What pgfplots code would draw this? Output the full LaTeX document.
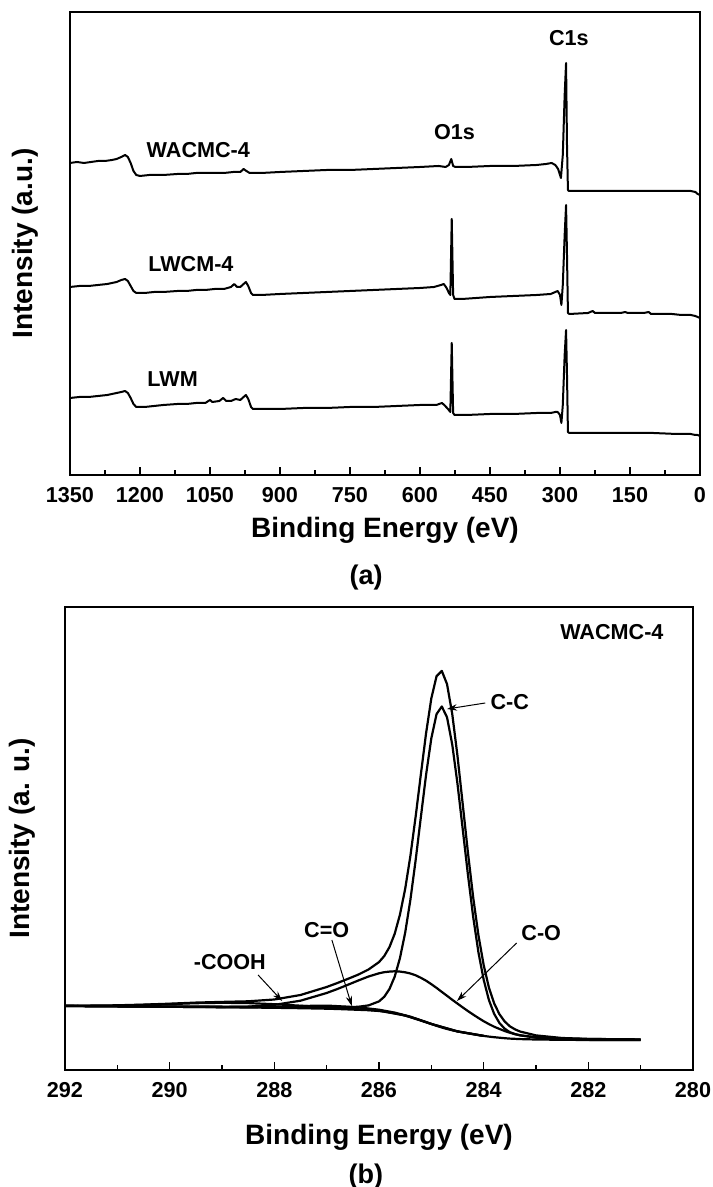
\documentclass[border=0pt]{standalone}
\usepackage{pgfplots}
\pgfplotsset{compat=1.18}
\usepackage{fontspec}
\setmainfont{Liberation Sans}
\usetikzlibrary{arrows.meta}

\pgfplotsset{
  xps/.style={
    scale only axis, clip=false,
    ymin=0, ymax=463, ytick=\empty,
    x dir=reverse, xtick pos=left, tick align=inside,
    minor x tick num=1,
    major tick length=4pt, minor tick length=2.3pt,
    every tick/.style={black, line width=0.8pt},
    axis line style={line width=1pt},
    /pgf/number format/assume math mode=true,
    /pgf/number format/1000 sep={},
    xticklabel style={font=\bfseries\fontsize{10.8}{12}\selectfont, yshift=-2.5pt},
    label style={font=\bfseries\fontsize{14}{16}\selectfont},
    cycle list={{black, mark=none}},
    every axis plot/.append style={line width=1pt, line join=round},
  },
}
\tikzset{
  ann/.style={font=\bfseries\fontsize{10.8}{12}\selectfont},
  arr/.style={-{Stealth[length=5pt,width=3.2pt]}, line width=0.5pt},
}

\begin{document}
\begin{tikzpicture}
\useasboundingbox (0,0) rectangle (356pt,593.5pt);

% (a) survey spectra
\begin{axis}[xps, at={(35pt,356pt)}, anchor=south west,
  width=315pt, height=231.5pt,
  xmin=0, xmax=1350, xtick={0,150,...,1350},
  xlabel={Binding Energy (eV)}, ylabel={Intensity (a.u.)},
  xlabel style={at={(axis description cs:0.5,-0.119)}, anchor=center},
  ylabel style={at={(axis description cs:-0.0714,0.5)}, anchor=center}]

% WACMC-4
\addplot coordinates {
(1350,312) (1335,313) (1320,312) (1305,313) (1290,314) (1275,314) (1260,315)
(1250,316) (1240,318) (1232,320) (1226,318) (1220,312) (1214,304) (1208,300)
(1200,299) (1180,300) (1150,300) (1120,301) (1100,301) (1080,302) (1050,302)
(1020,302) (1000,303) (985,303) (978,306) (972,304) (965,302) (940,302)
(900,303) (850,304) (800,305) (750,305) (700,306) (650,307) (600,308)
(560,309) (545,308) (538,310) (533,316) (529,309) (524,308) (500,308)
(450,309) (400,309) (350,310) (330,311) (318,312) (310,310) (304,306)
(298,297) (294,320) (290,380) (287,412) (285,330) (283,285) (281,284)
(250,284) (200,284) (150,284) (100,284) (50,284) (20,284) (10,283) (5,281) (0,280)
};
% LWCM-4
\addplot coordinates {
(1350,188) (1330,189) (1310,189) (1290,190) (1270,191) (1250,193) (1240,195)
(1232,196) (1226,194) (1220,189) (1214,184) (1208,182) (1190,182) (1170,183)
(1150,183) (1120,184) (1100,184) (1080,185) (1060,185) (1040,186) (1020,186)
(1005,188) (998,191) (992,188) (985,188) (978,191) (973,193) (968,189)
(962,182) (958,180) (940,180) (900,181) (850,182) (800,183) (750,184)
(700,185) (650,186) (600,187) (570,188) (555,190) (549,191) (543,187)
(538,182) (535,180) (532,256) (529,180) (526,176) (510,176) (480,177)
(450,178) (400,179) (350,180) (320,181) (310,183) (305,184) (300,180)
(297,170) (294,190) (290,240) (287,270) (285,220) (283,162) (280,161)
(240,162) (230,164) (225,162) (200,162) (170,162) (160,163) (155,162)
(120,162) (110,163) (105,161) (60,161) (40,160) (20,160) (10,159) (5,158) (0,157)
};
% LWM
\addplot coordinates {
(1350,77) (1330,78) (1310,78) (1290,79) (1270,80) (1250,82) (1240,83)
(1232,84) (1226,82) (1220,77) (1214,71) (1208,68) (1190,68) (1170,69)
(1150,70) (1120,71) (1100,71) (1080,72) (1060,72) (1050,75) (1045,73)
(1030,74) (1022,77) (1015,74) (1005,74) (995,76) (985,75) (978,78)
(973,80) (968,76) (962,68) (958,66) (930,66) (900,66) (850,67) (800,67)
(750,68) (700,68) (650,69) (600,70) (565,70) (553,72) (548,70) (540,66)
(535,63) (532,132) (529,62) (526,60) (500,60) (450,61) (400,61) (350,62)
(320,62) (310,63) (305,63) (300,60) (297,52) (294,70) (290,120) (287,145)
(285,100) (283,43) (280,42) (200,42) (150,42) (100,42) (50,41) (20,41)
(10,40) (5,40) (0,39)
};

\node[ann] at (axis cs:1075,325) {WACMC-4};
\node[ann] at (axis cs:1091,211) {LWCM-4};
\node[ann] at (axis cs:1130,96) {LWM};
\node[ann] at (axis cs:526,343) {O1s};
\node[ann] at (axis cs:281,437) {C1s};
\node[font=\bfseries\fontsize{13.5}{15}\selectfont] at (axis description cs:0.47,-0.2225) {(a)};
\end{axis}

% (b) C1s fit
\begin{axis}[xps, at={(32.5pt,58.5pt)}, anchor=south west,
  width=314pt, height=231.5pt,
  xmin=280, xmax=292, xtick={280,282,...,292},
  xlabel={Binding Energy (eV)}, ylabel={Intensity (a. u.)},
  xlabel style={at={(axis description cs:0.5,-0.145)}, anchor=center},
  ylabel style={at={(axis description cs:-0.0685,0.5)}, anchor=center},
  every axis plot/.append style={line width=1.1pt}]

% background
\addplot coordinates {
(292,64.0) (291,63.6) (290,63.2) (289,62.8) (288,62.2) (287.5,61.8) (287,61.3)
(286.8,61.0) (286.6,60.6) (286.4,60.2) (286.2,59.8) (286.0,59.0) (285.9,58.4)
(285.8,57.6) (285.7,56.7) (285.6,55.6) (285.5,54.4) (285.4,53.0) (285.3,51.4)
(285.2,49.7) (285.1,47.9) (285.0,46.0) (284.9,44.2) (284.8,42.5) (284.7,41.0)
(284.6,39.7) (284.5,38.6) (284.4,37.6) (284.3,36.7) (284.2,35.8) (284.1,34.9)
(284.0,34.1) (283.9,33.4) (283.8,32.8) (283.7,32.3) (283.6,31.8) (283.5,31.4)
(283.3,30.9) (283.0,30.5) (282.5,30.2) (282,30.0) (281,30.0)
};
% -COOH
\addplot coordinates {
(292,64.1) (291.5,64.2) (291,64.4) (290.5,65.1) (290,65.9) (289.5,66.8)
(289,67.2) (288.5,66.9) (288,65.8) (287.5,64.3) (287,62.8) (286.5,61.1)
(286,59.3) (285.5,54.5) (285,46.0) (284.5,38.6) (284,34.1)
};
% C=O
\addplot coordinates {
(292,64.0) (290,63.2) (289,62.8) (288.5,62.7) (288,63.1) (287.5,63.9)
(287.2,64.3) (286.9,64.15) (286.6,63.3) (286.3,62.1) (286.0,60.3)
(285.7,57.4) (285.4,53.3) (285.0,46.1) (284.5,38.6) (284,34.1)
};
% C-O
\addplot coordinates {
(292,64.0) (291,63.6) (290,63.2) (289,63.05) (288.5,63.4) (288,65.1)
(287.5,69.3) (287,77.0) (286.8,80.9) (286.6,85.1) (286.4,89.4) (286.2,93.5)
(286.0,96.7) (285.9,97.8) (285.8,98.4) (285.7,98.7) (285.6,98.4) (285.5,97.7)
(285.4,96.5) (285.3,94.7) (285.2,92.2) (285.1,89.3) (285.0,85.8) (284.9,82.1)
(284.8,78.1) (284.7,74.2) (284.6,70.2) (284.5,66.4) (284.4,62.6) (284.3,58.9)
(284.2,55.4) (284.1,52.0) (284.0,48.8) (283.9,45.9) (283.8,43.3) (283.7,41.1)
(283.6,39.0) (283.5,37.3) (283.4,35.8) (283.3,34.7) (283.0,32.3) (282.5,30.6)
(282,30.1) (281,30.0)
};
% C-C
\addplot coordinates {
(292,64.2) (291,63.9) (290,63.6) (289,63.4) (288,63.1) (287.5,62.9) (287,62.9)
(286.8,62.9) (286.6,62.9) (286.4,63.2) (286.2,64.6) (286.0,68.6) (285.9,73.2)
(285.8,81.0) (285.7,93.3) (285.6,111.8) (285.5,137.2) (285.4,170.2)
(285.3,209.7) (285.2,252.9) (285.1,295.4) (285.0,331.7) (284.9,355.9)
(284.8,363.5) (284.7,352.7) (284.6,325.4) (284.5,286.1) (284.4,240.8)
(284.3,195.0) (284.2,153.0) (284.1,117.7) (284.0,90.3) (283.9,70.0)
(283.8,56.2) (283.7,47.1) (283.6,41.4) (283.5,37.8) (283.4,35.9) (283.3,34.6)
(283.0,32.8) (282.5,31.6) (282,31.0) (281.5,30.8) (281,30.6)
};
% envelope
\addplot coordinates {
(292,64.3) (291.5,64.4) (291,64.7) (290.5,65.4) (290,66.3) (289.5,67.4)
(289,68.1) (288.5,68.7) (288,70.5) (287.5,75.0) (287,83.0) (286.8,86.9)
(286.6,91.0) (286.4,95.3) (286.2,100.5) (286.0,107.9) (285.9,113.9)
(285.8,122.9) (285.7,136.2) (285.6,155.3) (285.5,181.0) (285.4,214.1)
(285.3,253.3) (285.2,295.6) (285.1,336.9) (285.0,371.6) (284.9,393.8)
(284.8,399.1) (284.7,385.9) (284.6,355.9) (284.5,313.9) (284.4,265.8)
(284.3,217.2) (284.2,172.6) (284.1,134.8) (284.0,105.0) (283.9,82.5)
(283.8,66.7) (283.7,55.9) (283.6,48.6) (283.5,43.7) (283.4,40.6) (283.3,38.4)
(283.0,34.6) (282.5,32.0) (282,31.1) (281.5,30.8) (281,30.6)
};

\node[ann] at (axis cs:281.55,438) {WACMC-4};
\node[ann] at (axis cs:283.5,368) {C-C};
\draw[arr] (axis cs:283.97,367) -- (axis cs:284.70,361);
\node[ann] at (axis cs:287.0,140) {C=O};
\draw[arr] (axis cs:286.9,130) -- (axis cs:286.52,64);
\node[ann] at (axis cs:288.85,108) {-COOH};
\draw[arr] (axis cs:288.31,95) -- (axis cs:287.85,69);
\node[ann] at (axis cs:282.9,137) {C-O};
\draw[arr] (axis cs:283.37,127) -- (axis cs:284.51,69);
\node[font=\bfseries\fontsize{13.5}{15}\selectfont] at (axis description cs:0.479,-0.231) {(b)};
\end{axis}
\end{tikzpicture}
\end{document}
